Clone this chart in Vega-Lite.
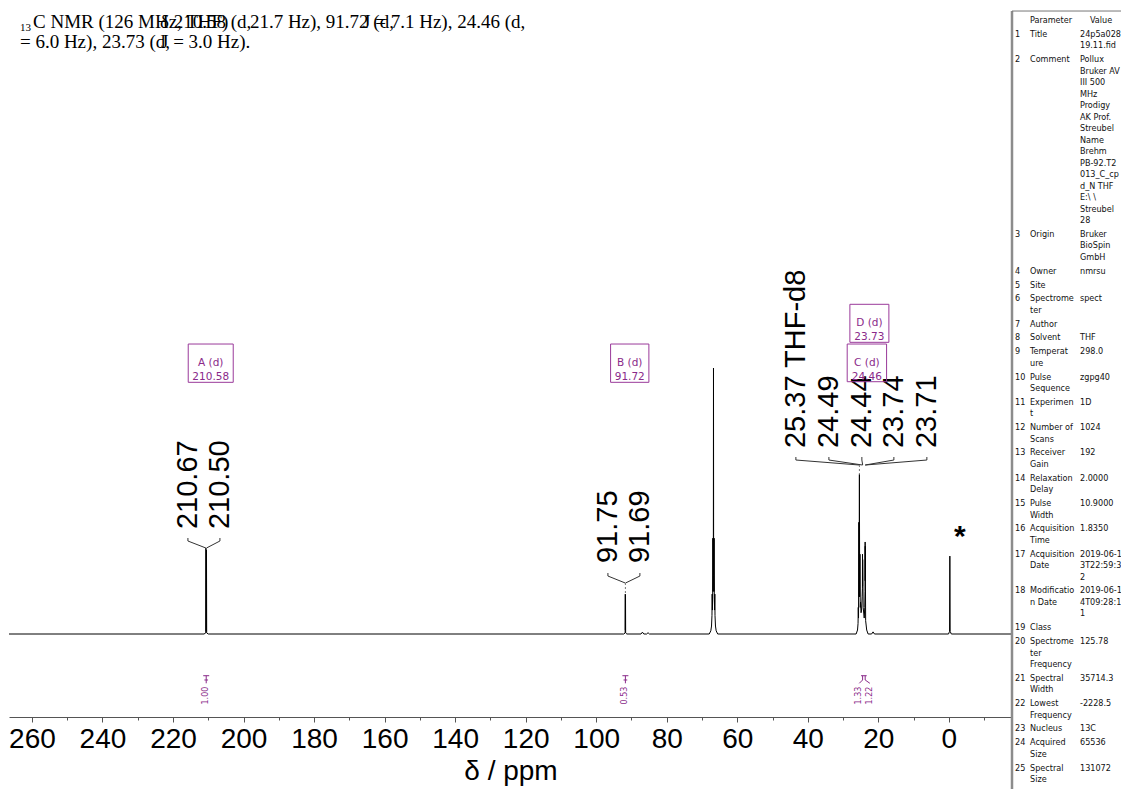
{
  "$schema": "https://vega.github.io/schema/vega-lite/v6.json",
  "width": 1121,
  "height": 717,
  "autosize": "none",
  "padding": {"left": 0, "top": 0, "right": 0, "bottom": 72},
  "background": "white",
  "config": {"view": {"stroke": null}, "axisY": {"disable": true}},
  "datasets": {
    "spectrum": [
      {"ppm": 266.5, "i": 0},
      {"ppm": 211.2, "i": 0}, {"ppm": 210.72, "i": 0.4}, {"ppm": 210.67, "i": 32.3}, {"ppm": 210.62, "i": 1.0},
      {"ppm": 210.55, "i": 1.0}, {"ppm": 210.5, "i": 31.6}, {"ppm": 210.45, "i": 0.4}, {"ppm": 210.0, "i": 0},
      {"ppm": 92.2, "i": 0}, {"ppm": 91.79, "i": 0.4}, {"ppm": 91.75, "i": 15.0}, {"ppm": 91.72, "i": 1.5},
      {"ppm": 91.69, "i": 14.6}, {"ppm": 91.65, "i": 0.4}, {"ppm": 91.3, "i": 0},
      {"ppm": 87.3, "i": 0}, {"ppm": 86.9, "i": 0.7}, {"ppm": 86.5, "i": 0},
      {"ppm": 85.7, "i": 0}, {"ppm": 85.3, "i": 0.5}, {"ppm": 84.9, "i": 0},
      {"ppm": 67.95, "i": 0}, {"ppm": 67.5, "i": 1.2}, {"ppm": 67.3, "i": 3}, {"ppm": 67.17, "i": 7},
      {"ppm": 67.12, "i": 15}, {"ppm": 67.05, "i": 9}, {"ppm": 66.97, "i": 14}, {"ppm": 66.93, "i": 36},
      {"ppm": 66.88, "i": 16}, {"ppm": 66.78, "i": 22}, {"ppm": 66.74, "i": 100}, {"ppm": 66.7, "i": 22},
      {"ppm": 66.6, "i": 16}, {"ppm": 66.55, "i": 36}, {"ppm": 66.51, "i": 14}, {"ppm": 66.43, "i": 9},
      {"ppm": 66.36, "i": 15}, {"ppm": 66.31, "i": 7}, {"ppm": 66.18, "i": 3}, {"ppm": 65.98, "i": 1.2},
      {"ppm": 65.55, "i": 0},
      {"ppm": 26.3, "i": 0}, {"ppm": 25.9, "i": 1.5}, {"ppm": 25.75, "i": 4}, {"ppm": 25.69, "i": 10},
      {"ppm": 25.62, "i": 6}, {"ppm": 25.53, "i": 42}, {"ppm": 25.45, "i": 14}, {"ppm": 25.37, "i": 60},
      {"ppm": 25.29, "i": 14}, {"ppm": 25.21, "i": 30}, {"ppm": 25.13, "i": 10}, {"ppm": 25.05, "i": 12},
      {"ppm": 24.9, "i": 8}, {"ppm": 24.75, "i": 9}, {"ppm": 24.6, "i": 14}, {"ppm": 24.52, "i": 17},
      {"ppm": 24.49, "i": 30}, {"ppm": 24.465, "i": 18}, {"ppm": 24.44, "i": 28}, {"ppm": 24.3, "i": 10},
      {"ppm": 24.0, "i": 6}, {"ppm": 23.85, "i": 10}, {"ppm": 23.77, "i": 16}, {"ppm": 23.74, "i": 34.6},
      {"ppm": 23.725, "i": 20}, {"ppm": 23.71, "i": 33}, {"ppm": 23.6, "i": 5}, {"ppm": 23.3, "i": 1.5},
      {"ppm": 22.9, "i": 0},
      {"ppm": 21.9, "i": 0}, {"ppm": 21.5, "i": 0.8}, {"ppm": 21.1, "i": 0},
      {"ppm": 0.1, "i": 0}, {"ppm": -0.2, "i": 1}, {"ppm": -0.28, "i": 29.3}, {"ppm": -0.36, "i": 1}, {"ppm": -0.7, "i": 0},
      {"ppm": -17.9, "i": 0}
    ],
    "links": [
      {"ppm": 215.77, "i": 36.09, "ppm2": 215.77, "i2": 34.96},
      {"ppm": 215.77, "i": 34.96, "ppm2": 210.67, "i2": 32.33},
      {"ppm": 206.69, "i": 36.09, "ppm2": 206.69, "i2": 34.96},
      {"ppm": 206.69, "i": 34.96, "ppm2": 210.5, "i2": 32.33},
      {"ppm": 96.68, "i": 22.93, "ppm2": 96.68, "i2": 21.8},
      {"ppm": 96.68, "i": 21.8, "ppm2": 91.75, "i2": 19.17},
      {"ppm": 87.61, "i": 22.93, "ppm2": 87.61, "i2": 21.8},
      {"ppm": 87.61, "i": 21.8, "ppm2": 91.69, "i2": 19.17},
      {"ppm": 43.38, "i": 66.54, "ppm2": 43.38, "i2": 65.41},
      {"ppm": 43.38, "i": 65.41, "ppm2": 25.37, "i2": 63.53},
      {"ppm": 34.02, "i": 66.54, "ppm2": 34.02, "i2": 65.41},
      {"ppm": 34.02, "i": 65.41, "ppm2": 24.49, "i2": 63.53},
      {"ppm": 24.67, "i": 66.54, "ppm2": 24.67, "i2": 65.41},
      {"ppm": 24.67, "i": 65.41, "ppm2": 24.44, "i2": 63.53},
      {"ppm": 15.59, "i": 66.54, "ppm2": 15.59, "i2": 65.41},
      {"ppm": 15.59, "i": 65.41, "ppm2": 23.74, "i2": 63.53},
      {"ppm": 6.24, "i": 66.54, "ppm2": 6.24, "i2": 65.41},
      {"ppm": 6.24, "i": 65.41, "ppm2": 23.71, "i2": 63.53}
    ],
    "dropLines": [
      {"ppm": 91.72, "i": 19.17, "ppm2": 91.72, "i2": 15.0},
      {"ppm": 25.37, "i": 63.53, "ppm2": 25.37, "i2": 60.0}
    ],
    "peakLabels": [
      {"ppm": 215.77, "i": 39.47, "label": "210.67"},
      {"ppm": 206.69, "i": 39.47, "label": "210.50"},
      {"ppm": 96.68, "i": 26.69, "label": "91.75"},
      {"ppm": 87.61, "i": 26.69, "label": "91.69"},
      {"ppm": 43.38, "i": 69.92, "label": "25.37 THF-d8"},
      {"ppm": 34.02, "i": 69.92, "label": "24.49"},
      {"ppm": 24.67, "i": 69.92, "label": "24.44"},
      {"ppm": 15.59, "i": 69.92, "label": "23.74"},
      {"ppm": 6.24, "i": 69.92, "label": "23.71"}
    ],
    "multiplets": [
      {"ppm": 215.68, "ppm2": 202.92, "i": 94.62, "i2": 109.02, "mid": 209.3, "imid": 101.82, "label": "A (d)\n210.58"},
      {"ppm": 95.92, "ppm2": 85.06, "i": 94.62, "i2": 109.02, "mid": 90.49, "imid": 101.82, "label": "B (d)\n91.72"},
      {"ppm": 28.83, "ppm2": 17.66, "i": 94.85, "i2": 109.02, "mid": 23.25, "imid": 101.93, "label": "C (d)\n24.46"},
      {"ppm": 28.07, "ppm2": 17.01, "i": 109.66, "i2": 123.95, "mid": 22.54, "imid": 116.8, "label": "D (d)\n23.73"}
    ],
    "integralLines": [
      {"ppm": 211.43, "i": -15.68, "ppm2": 209.73, "i2": -15.68},
      {"ppm": 210.58, "i": -15.68, "ppm2": 210.58, "i2": -18.53},
      {"ppm": 211.1, "i": -17.29, "ppm2": 210.06, "i2": -17.29},
      {"ppm": 92.57, "i": -15.68, "ppm2": 90.87, "i2": -15.68},
      {"ppm": 91.72, "i": -15.68, "ppm2": 91.72, "i2": -18.53},
      {"ppm": 92.24, "i": -17.29, "ppm2": 91.2, "i2": -17.29},
      {"ppm": 24.9, "i": -15.68, "ppm2": 23.3, "i2": -15.68},
      {"ppm": 24.46, "i": -15.68, "ppm2": 24.46, "i2": -17.29},
      {"ppm": 24.46, "i": -17.29, "ppm2": 25.4, "i2": -18.53},
      {"ppm": 23.73, "i": -15.68, "ppm2": 23.73, "i2": -17.29},
      {"ppm": 23.73, "i": -17.29, "ppm2": 22.4, "i2": -18.53}
    ],
    "integralLabels": [
      {"ppm": 210.58, "i": -19.8, "label": "1.00"},
      {"ppm": 91.72, "i": -19.8, "label": "0.53"},
      {"ppm": 25.4, "i": -19.8, "label": "1.33"},
      {"ppm": 22.4, "i": -19.8, "label": "1.22"}
    ],
    "heading": [
      {"ppm": 259.7, "i": 227.8, "text": "C NMR (126 MHz, THF)"},
      {"ppm": 223.7, "i": 227.8, "text": "δ 210.58 (d,"},
      {"ppm": 198.2, "i": 227.8, "text": "21.7 Hz), 91.72 (d,"},
      {"ppm": 166.1, "i": 227.8, "text": "J = 7.1 Hz), 24.46 (d,"},
      {"ppm": 263.4, "i": 220.3, "text": "= 6.0 Hz), 23.73 (d,"},
      {"ppm": 223.4, "i": 220.3, "text": "J = 3.0 Hz)."}
    ],
    "params": [
      {"line": 0, "row": 0, "num": "", "name": "Parameter", "value": ""},
      {"line": 1, "row": 1, "num": "1", "name": "Title", "value": "24p5a028"},
      {"line": 2, "row": 1, "num": "", "name": "", "value": "19.11.fid"},
      {"line": 3, "row": 2, "num": "2", "name": "Comment", "value": "Pollux"},
      {"line": 4, "row": 2, "num": "", "name": "", "value": "Bruker AV"},
      {"line": 5, "row": 2, "num": "", "name": "", "value": "III 500"},
      {"line": 6, "row": 2, "num": "", "name": "", "value": "MHz"},
      {"line": 7, "row": 2, "num": "", "name": "", "value": "Prodigy"},
      {"line": 8, "row": 2, "num": "", "name": "", "value": "AK Prof."},
      {"line": 9, "row": 2, "num": "", "name": "", "value": "Streubel"},
      {"line": 10, "row": 2, "num": "", "name": "", "value": "Name"},
      {"line": 11, "row": 2, "num": "", "name": "", "value": "Brehm"},
      {"line": 12, "row": 2, "num": "", "name": "", "value": "PB-92.T2"},
      {"line": 13, "row": 2, "num": "", "name": "", "value": "013_C_cp"},
      {"line": 14, "row": 2, "num": "", "name": "", "value": "d_N THF"},
      {"line": 15, "row": 2, "num": "", "name": "", "value": "E:\\ \\"},
      {"line": 16, "row": 2, "num": "", "name": "", "value": "Streubel"},
      {"line": 17, "row": 2, "num": "", "name": "", "value": "28"},
      {"line": 18, "row": 3, "num": "3", "name": "Origin", "value": "Bruker"},
      {"line": 19, "row": 3, "num": "", "name": "", "value": "BioSpin"},
      {"line": 20, "row": 3, "num": "", "name": "", "value": "GmbH"},
      {"line": 21, "row": 4, "num": "4", "name": "Owner", "value": "nmrsu"},
      {"line": 22, "row": 5, "num": "5", "name": "Site", "value": ""},
      {"line": 23, "row": 6, "num": "6", "name": "Spectrome", "value": "spect"},
      {"line": 24, "row": 6, "num": "", "name": "ter", "value": ""},
      {"line": 25, "row": 7, "num": "7", "name": "Author", "value": ""},
      {"line": 26, "row": 8, "num": "8", "name": "Solvent", "value": "THF"},
      {"line": 27, "row": 9, "num": "9", "name": "Temperat", "value": "298.0"},
      {"line": 28, "row": 9, "num": "", "name": "ure", "value": ""},
      {"line": 29, "row": 10, "num": "10", "name": "Pulse", "value": "zgpg40"},
      {"line": 30, "row": 10, "num": "", "name": "Sequence", "value": ""},
      {"line": 31, "row": 11, "num": "11", "name": "Experimen", "value": "1D"},
      {"line": 32, "row": 11, "num": "", "name": "t", "value": ""},
      {"line": 33, "row": 12, "num": "12", "name": "Number of", "value": "1024"},
      {"line": 34, "row": 12, "num": "", "name": "Scans", "value": ""},
      {"line": 35, "row": 13, "num": "13", "name": "Receiver", "value": "192"},
      {"line": 36, "row": 13, "num": "", "name": "Gain", "value": ""},
      {"line": 37, "row": 14, "num": "14", "name": "Relaxation", "value": "2.0000"},
      {"line": 38, "row": 14, "num": "", "name": "Delay", "value": ""},
      {"line": 39, "row": 15, "num": "15", "name": "Pulse", "value": "10.9000"},
      {"line": 40, "row": 15, "num": "", "name": "Width", "value": ""},
      {"line": 41, "row": 16, "num": "16", "name": "Acquisition", "value": "1.8350"},
      {"line": 42, "row": 16, "num": "", "name": "Time", "value": ""},
      {"line": 43, "row": 17, "num": "17", "name": "Acquisition", "value": "2019-06-1"},
      {"line": 44, "row": 17, "num": "", "name": "Date", "value": "3T22:59:3"},
      {"line": 45, "row": 17, "num": "", "name": "", "value": "2"},
      {"line": 46, "row": 18, "num": "18", "name": "Modificatio", "value": "2019-06-1"},
      {"line": 47, "row": 18, "num": "", "name": "n Date", "value": "4T09:28:1"},
      {"line": 48, "row": 18, "num": "", "name": "", "value": "1"},
      {"line": 49, "row": 19, "num": "19", "name": "Class", "value": ""},
      {"line": 50, "row": 20, "num": "20", "name": "Spectrome", "value": "125.78"},
      {"line": 51, "row": 20, "num": "", "name": "ter", "value": ""},
      {"line": 52, "row": 20, "num": "", "name": "Frequency", "value": ""},
      {"line": 53, "row": 21, "num": "21", "name": "Spectral", "value": "35714.3"},
      {"line": 54, "row": 21, "num": "", "name": "Width", "value": ""},
      {"line": 55, "row": 22, "num": "22", "name": "Lowest", "value": "-2228.5"},
      {"line": 56, "row": 22, "num": "", "name": "Frequency", "value": ""},
      {"line": 57, "row": 23, "num": "23", "name": "Nucleus", "value": "13C"},
      {"line": 58, "row": 24, "num": "24", "name": "Acquired", "value": "65536"},
      {"line": 59, "row": 24, "num": "", "name": "Size", "value": ""},
      {"line": 60, "row": 25, "num": "25", "name": "Spectral", "value": "131072"},
      {"line": 61, "row": 25, "num": "", "name": "Size", "value": ""}
    ]
  },
  "layer": [
    {
      "layer": [
        {
          "data": {"name": "spectrum"},
          "mark": {"type": "line", "color": "black", "strokeWidth": 1, "interpolate": "linear"},
          "encoding": {
            "x": {
              "field": "ppm", "type": "quantitative",
              "scale": {"domain": [266.5, -17.9], "range": [9, 1012], "nice": false, "zero": false},
              "axis": {
                "title": "δ / ppm",
                "values": [260, 250, 240, 230, 220, 210, 200, 190, 180, 170, 160, 150, 140, 130, 120, 110, 100, 90, 80, 70, 60, 50, 40, 30, 20, 10, 0, -10],
                "labelExpr": "datum.value % 20 === 0 ? datum.label : ''",
                "tickSize": {"condition": {"test": "datum.value % 20 === 0", "value": 5}, "value": 3},
                "tickColor": "#555555",
                "domainColor": "#555555",
                "grid": false,
                "labelFont": "Liberation Sans",
                "labelFontSize": 28,
                "labelColor": "black",
                "labelPadding": 3,
                "labelFlush": false,
                "labelOverlap": false,
                "titleFont": "Liberation Sans",
                "titleFontSize": 28,
                "titleFontWeight": "normal",
                "titleColor": "black",
                "titlePadding": 4
              }
            },
            "y": {
              "field": "i", "type": "quantitative",
              "scale": {"domain": [-31.2, 238.35], "nice": false, "zero": false}
            }
          }
        },
        {
          "data": {"name": "links"},
          "mark": {"type": "rule", "color": "#333333", "strokeWidth": 1},
          "encoding": {
            "x": {"field": "ppm", "type": "quantitative"},
            "x2": {"field": "ppm2"},
            "y": {"field": "i", "type": "quantitative"},
            "y2": {"field": "i2"}
          }
        },
        {
          "data": {"name": "dropLines"},
          "mark": {"type": "rule", "color": "#777777", "strokeWidth": 1, "strokeDash": [2, 2]},
          "encoding": {
            "x": {"field": "ppm", "type": "quantitative"},
            "x2": {"field": "ppm2"},
            "y": {"field": "i", "type": "quantitative"},
            "y2": {"field": "i2"}
          }
        },
        {
          "data": {"name": "peakLabels"},
          "mark": {"type": "text", "angle": 270, "align": "left", "baseline": "middle", "font": "Liberation Sans", "fontSize": 29, "color": "black"},
          "encoding": {
            "x": {"field": "ppm", "type": "quantitative"},
            "y": {"field": "i", "type": "quantitative"},
            "text": {"field": "label"}
          }
        },
        {
          "data": {"name": "multiplets"},
          "mark": {"type": "rect", "fill": null, "fillOpacity": 0, "stroke": "#9a3a9a", "strokeWidth": 1},
          "encoding": {
            "x": {"field": "ppm", "type": "quantitative"},
            "x2": {"field": "ppm2"},
            "y": {"field": "i", "type": "quantitative"},
            "y2": {"field": "i2"}
          }
        },
        {
          "data": {"name": "multiplets"},
          "mark": {"type": "text", "align": "center", "baseline": "middle", "lineBreak": "\n", "lineHeight": 14, "font": "DejaVu Sans", "fontSize": 10.5, "color": "#8a2a8a"},
          "encoding": {
            "x": {"field": "mid", "type": "quantitative"},
            "y": {"field": "imid", "type": "quantitative"},
            "text": {"field": "label"}
          }
        },
        {
          "data": {"name": "integralLines"},
          "mark": {"type": "rule", "color": "#8a2a8a", "strokeWidth": 1},
          "encoding": {
            "x": {"field": "ppm", "type": "quantitative"},
            "x2": {"field": "ppm2"},
            "y": {"field": "i", "type": "quantitative"},
            "y2": {"field": "i2"}
          }
        },
        {
          "data": {"name": "integralLabels"},
          "mark": {"type": "text", "angle": 270, "align": "right", "baseline": "middle", "font": "DejaVu Sans", "fontSize": 8, "color": "#8a2a8a"},
          "encoding": {
            "x": {"field": "ppm", "type": "quantitative"},
            "y": {"field": "i", "type": "quantitative"},
            "text": {"field": "label"}
          }
        },
        {
          "data": {"values": [{"ppm": -3.1, "i": 33, "label": "*"}]},
          "mark": {"type": "text", "align": "center", "baseline": "alphabetic", "font": "Liberation Sans", "fontSize": 30, "fontWeight": "bold", "color": "black"},
          "encoding": {
            "x": {"field": "ppm", "type": "quantitative"},
            "y": {"field": "i", "type": "quantitative"},
            "text": {"field": "label"}
          }
        },
        {
          "data": {"name": "heading"},
          "mark": {"type": "text", "align": "left", "baseline": "alphabetic", "font": "Liberation Serif", "fontSize": 19, "color": "black"},
          "encoding": {
            "x": {"field": "ppm", "type": "quantitative"},
            "y": {"field": "i", "type": "quantitative"},
            "text": {"field": "text"}
          }
        },
        {
          "data": {"values": [{"ppm": 263.4, "i": 226.7, "text": "13"}]},
          "mark": {"type": "text", "align": "left", "baseline": "alphabetic", "font": "Liberation Serif", "fontSize": 11, "color": "black"},
          "encoding": {
            "x": {"field": "ppm", "type": "quantitative"},
            "y": {"field": "i", "type": "quantitative"},
            "text": {"field": "text"}
          }
        }
      ]
    },
    {
      "layer": [
        {
          "data": {"name": "params"},
          "transform": [{"calculate": "datum.line + 0.2 * datum.row", "as": "slot"}],
          "mark": {"type": "text", "align": "left", "baseline": "middle", "font": "DejaVu Sans Condensed, DejaVu Sans", "fontSize": 9, "color": "#111111"},
          "encoding": {
            "x": {"datum": 18, "type": "quantitative", "axis": null, "scale": {"domain": [0, 109], "range": [1012, 1121], "nice": false, "zero": false}},
            "y": {"field": "slot", "type": "quantitative", "scale": {"domain": [0, 66], "range": [20, 779], "nice": false, "zero": false}},
            "text": {"field": "name"}
          }
        },
        {
          "data": {"name": "params"},
          "transform": [{"calculate": "datum.line + 0.2 * datum.row", "as": "slot"}],
          "mark": {"type": "text", "align": "left", "baseline": "middle", "font": "DejaVu Sans Condensed, DejaVu Sans", "fontSize": 9, "color": "#111111"},
          "encoding": {
            "x": {"datum": 3, "type": "quantitative", "axis": null},
            "y": {"field": "slot", "type": "quantitative"},
            "text": {"field": "num"}
          }
        },
        {
          "data": {"name": "params"},
          "transform": [{"calculate": "datum.line + 0.2 * datum.row", "as": "slot"}],
          "mark": {"type": "text", "align": "left", "baseline": "middle", "font": "DejaVu Sans Condensed, DejaVu Sans", "fontSize": 9, "color": "#111111"},
          "encoding": {
            "x": {"datum": 68, "type": "quantitative", "axis": null},
            "y": {"field": "slot", "type": "quantitative"},
            "text": {"field": "value"}
          }
        },
        {
          "data": {"values": [{"slot": 0, "text": "Value"}]},
          "mark": {"type": "text", "align": "left", "baseline": "middle", "font": "DejaVu Sans Condensed, DejaVu Sans", "fontSize": 9, "color": "#111111"},
          "encoding": {
            "x": {"datum": 78, "type": "quantitative", "axis": null},
            "y": {"field": "slot", "type": "quantitative"},
            "text": {"field": "text"}
          }
        },
        {
          "data": {"values": [{"top": -0.78, "bottom": 67}]},
          "mark": {"type": "rule", "color": "#8c8c8c", "strokeWidth": 2.5},
          "encoding": {
            "x": {"datum": 0, "type": "quantitative", "axis": null},
            "y": {"field": "top", "type": "quantitative"},
            "y2": {"field": "bottom"}
          }
        },
        {
          "data": {"values": [{"top": -0.78, "left": 0, "right": 109}]},
          "mark": {"type": "rule", "color": "#777777", "strokeWidth": 1},
          "encoding": {
            "x": {"field": "left", "type": "quantitative", "axis": null},
            "x2": {"field": "right"},
            "y": {"field": "top", "type": "quantitative"}
          }
        }
      ]
    }
  ],
  "resolve": {"scale": {"x": "independent", "y": "independent"}}
}
